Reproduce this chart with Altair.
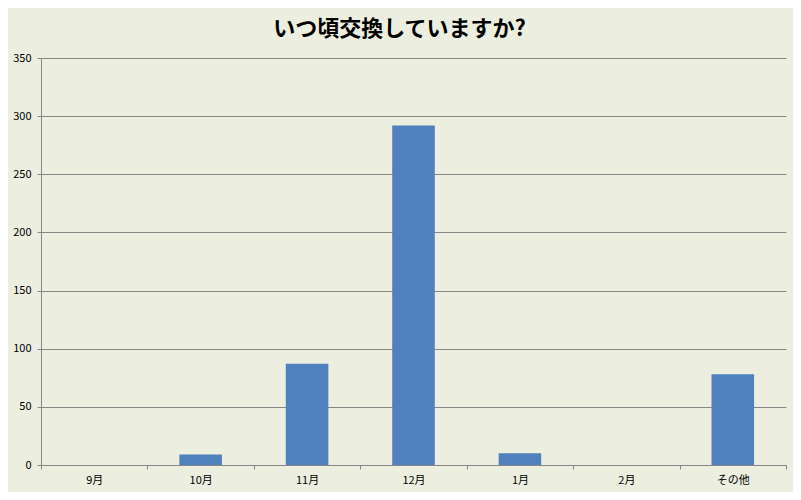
import altair as alt
import pandas as pd

categories = ["9月", "10月", "11月", "12月", "1月", "2月", "その他"]
values = [0, 9, 87, 292, 10, 0, 78]
y_ticks = [0, 50, 100, 150, 200, 250, 300, 350]

df = pd.DataFrame({"month": categories, "count": values})

FONT = "Noto Sans CJK JP"
BG = "#ECEFDF"
GRID = "#868686"

bars = (
    alt.Chart(df)
    .mark_bar(color="#4F81BD")
    .encode(
        x=alt.X(
            "month:N",
            sort=categories,
            title=None,
            scale=alt.Scale(paddingInner=0.6, paddingOuter=0.3),
            axis=None,
        ),
        y=alt.Y(
            "count:Q",
            title=None,
            scale=alt.Scale(domain=[0, 350], nice=False),
            axis=alt.Axis(
                values=y_ticks,
                domainColor=GRID,
                tickColor=GRID,
                tickSize=4,
                labelPadding=6,
                labelFontSize=11,
                labelColor="#000000",
                labelFont=FONT,
                gridColor=GRID,
                gridOpacity=1,
                gridWidth=1,
            ),
        ),
    )
)

xaxis = (
    alt.Chart(df)
    .mark_point(opacity=0)
    .encode(
        x=alt.X(
            "month:N",
            sort=categories,
            title=None,
            scale=alt.Scale(paddingInner=0, paddingOuter=0),
            axis=alt.Axis(
                labelAngle=0,
                tickBand="extent",
                domainColor=GRID,
                tickColor=GRID,
                tickSize=4,
                labelPadding=5,
                labelFontSize=11,
                labelColor="#000000",
                labelFont=FONT,
                grid=False,
            ),
        ),
    )
)

chart = (
    alt.layer(bars, xaxis)
    .resolve_scale(x="independent")
    .properties(
        width=745,
        height=407,
        autosize=alt.AutoSizeParams(type="none"),
        padding={"left": 33, "top": 50, "right": 7, "bottom": 27},
        background=BG,
        title=alt.TitleParams(
            "いつ頃交換していますか?",
            font=FONT,
            fontSize=22,
            fontWeight="bold",
            color="#000000",
            anchor="middle",
            dx=-14,
            offset=11,
        ),
    )
    .configure_view(stroke=None)
)

chart.save("out.html", embed_options={"renderer": "svg", "actions": False})
